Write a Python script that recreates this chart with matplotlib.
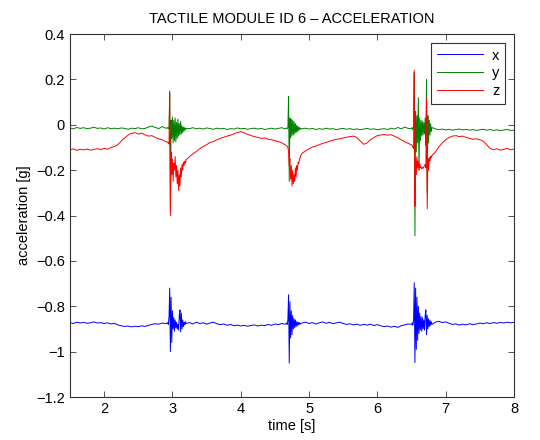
import numpy as np
import matplotlib
matplotlib.use("Agg")
import matplotlib.pyplot as plt

plt.rcParams['font.family'] = ['Liberation Sans', 'DejaVu Sans']

# -------- data --------
# each piece: start time, step, values for x / y / z
S1_T0, S1_DT = 1.50, 0.05
s1_x = [-0.872, -0.876, -0.870, -0.874, -0.871, -0.875, -0.873, -0.869, -0.874, -0.872,
        -0.876, -0.873, -0.878, -0.875, -0.882, -0.886, -0.889, -0.887, -0.891, -0.888,
        -0.890, -0.886, -0.889, -0.884, -0.880, -0.877, -0.879, -0.874, -0.877]
s1_y = [-0.014, -0.018, -0.012, -0.016, -0.013, -0.017, -0.015, -0.011, -0.016, -0.014,
        -0.019, -0.013, -0.017, -0.015, -0.018, -0.014, -0.016, -0.020, -0.015, -0.017,
        -0.013, -0.018, -0.016, -0.010, -0.006, -0.012, -0.017, -0.008, -0.015]
s1_z = [-0.110, -0.106, -0.113, -0.108, -0.111, -0.107, -0.112, -0.109, -0.105, -0.110,
        -0.104, -0.108, -0.100, -0.096, -0.088, -0.072, -0.058, -0.046, -0.038, -0.035,
        -0.041, -0.037, -0.045, -0.050, -0.048, -0.056, -0.062, -0.066, -0.074]

E1_T0, E1_DT = 2.92, 0.01
e1_x = [-0.875, -0.872, -0.880, -0.845, -0.720, -1.000, -0.760, -0.960, -0.820, -0.900,
        -0.850, -0.910, -0.860, -0.895, -0.870, -0.900, -0.880, -0.905, -0.840, -0.816,
        -0.913, -0.830, -0.900, -0.860, -0.890, -0.870, -0.882, -0.868, -0.876]
e1_y = [-0.015, -0.012, -0.018, -0.010, 0.140, -0.380, 0.020, -0.060, 0.034, -0.080,
        0.020, -0.070, 0.030, -0.075, 0.010, -0.060, 0.025, -0.050, 0.005, -0.045,
        0.015, -0.040, -0.005, -0.035, -0.010, -0.028, -0.012, -0.022, -0.016]
e1_z = [-0.076, -0.078, -0.080, -0.085, 0.150, -0.400, -0.120, -0.220, -0.150, -0.250,
        -0.170, -0.200, -0.140, -0.230, -0.180, -0.260, -0.200, -0.290, -0.220, -0.270,
        -0.190, -0.230, -0.175, -0.200, -0.165, -0.180, -0.160, -0.170, -0.155]

S2_T0, S2_DT = 3.25, 0.05
s2_x = [-0.872, -0.878, -0.870, -0.876, -0.873, -0.879, -0.874, -0.870, -0.877, -0.881,
        -0.878, -0.884, -0.880, -0.886, -0.883, -0.887, -0.884, -0.888, -0.885, -0.882,
        -0.887, -0.883, -0.886, -0.880, -0.884, -0.878, -0.881, -0.876, -0.879]
s2_y = [-0.017, -0.013, -0.018, -0.015, -0.019, -0.014, -0.017, -0.020, -0.015, -0.018,
        -0.016, -0.021, -0.017, -0.019, -0.014, -0.018, -0.016, -0.020, -0.017, -0.015,
        -0.019, -0.016, -0.021, -0.018, -0.015, -0.019, -0.016, -0.013, -0.018]
s2_z = [-0.140, -0.128, -0.118, -0.105, -0.096, -0.088, -0.078, -0.074, -0.066, -0.060,
        -0.055, -0.050, -0.046, -0.040, -0.034, -0.030, -0.036, -0.042, -0.048, -0.052,
        -0.056, -0.060, -0.058, -0.064, -0.066, -0.070, -0.074, -0.080, -0.088]

E2_T0, E2_DT = 4.66, 0.01
e2_x = [-0.878, -0.874, -0.880, -0.860, -0.750, -1.050, -0.780, -0.940, -0.820, -0.925,
        -0.840, -0.900, -0.855, -0.895, -0.860, -0.890, -0.868, -0.885, -0.870, -0.882,
        -0.872, -0.879, -0.875]
e2_y = [-0.016, -0.014, -0.018, -0.012, 0.124, -0.250, 0.030, -0.058, 0.025, -0.050,
        0.020, -0.045, 0.015, -0.040, 0.005, -0.035, -0.002, -0.030, -0.008, -0.025,
        -0.012, -0.020, -0.016]
e2_z = [-0.090, -0.092, -0.095, -0.100, -0.120, -0.180, -0.150, -0.240, -0.180, -0.270,
        -0.200, -0.260, -0.220, -0.250, -0.190, -0.230, -0.180, -0.200, -0.165, -0.170,
        -0.150, -0.145, -0.135]

S3_T0, S3_DT = 4.90, 0.05
s3_x = [-0.874, -0.870, -0.876, -0.872, -0.878, -0.873, -0.869, -0.875, -0.871, -0.877,
        -0.873, -0.870, -0.876, -0.880, -0.877, -0.882, -0.879, -0.884, -0.880, -0.883,
        -0.879, -0.885, -0.881, -0.886, -0.890, -0.887, -0.892, -0.888, -0.893, -0.886,
        -0.882, -0.878]
s3_y = [-0.018, -0.015, -0.019, -0.016, -0.021, -0.017, -0.020, -0.015, -0.019, -0.017,
        -0.022, -0.018, -0.016, -0.020, -0.017, -0.021, -0.018, -0.022, -0.019, -0.016,
        -0.020, -0.018, -0.022, -0.019, -0.017, -0.021, -0.015, -0.019, -0.012, -0.018,
        -0.010, -0.016]
s3_z = [-0.125, -0.115, -0.106, -0.098, -0.094, -0.088, -0.082, -0.078, -0.072, -0.068,
        -0.064, -0.062, -0.058, -0.055, -0.052, -0.050, -0.056, -0.072, -0.086, -0.080,
        -0.066, -0.056, -0.048, -0.045, -0.043, -0.046, -0.044, -0.050, -0.058, -0.066,
        -0.074, -0.082]

E3_T0, E3_DT = 6.50, 0.01
e3_x = [-0.880, -0.872, -0.884, -0.860, -0.696, -1.048, -0.720, -0.990, -0.760, -0.950,
        -0.800, -0.920, -0.830, -0.905, -0.845, -0.910, -0.850, -0.900, -0.860, -0.905,
        -0.840, -0.816, -0.926, -0.840, -0.900, -0.855, -0.890, -0.862, -0.884, -0.868,
        -0.880]
e3_y = [-0.018, -0.012, -0.022, -0.008, 0.230, -0.490, 0.060, -0.120, 0.040, -0.080,
        0.120, -0.200, 0.030, -0.070, 0.020, -0.050, 0.015, -0.045, 0.010, -0.040,
        0.030, -0.090, 0.200, -0.300, 0.040, -0.080, 0.020, -0.045, 0.005, -0.030,
        -0.012]
e3_z = [-0.088, -0.092, -0.098, -0.105, 0.240, -0.360, -0.150, -0.220, -0.140, -0.190,
        -0.160, -0.200, -0.170, -0.190, -0.185, -0.195, -0.188, -0.192, -0.185, -0.180,
        -0.175, -0.190, 0.120, -0.370, -0.150, -0.200, -0.145, -0.160, -0.140, -0.145,
        -0.135]

S4_T0, S4_DT = 6.85, 0.05
s4_x = [-0.870, -0.866, -0.872, -0.869, -0.875, -0.880, -0.878, -0.883, -0.879, -0.882,
        -0.877, -0.881, -0.878, -0.874, -0.877, -0.873, -0.876, -0.872, -0.875, -0.871,
        -0.874, -0.870, -0.873, -0.871]
s4_y = [-0.018, -0.022, -0.019, -0.023, -0.020, -0.024, -0.021, -0.019, -0.023, -0.020,
        -0.024, -0.021, -0.025, -0.022, -0.020, -0.024, -0.021, -0.025, -0.022, -0.026,
        -0.023, -0.021, -0.025, -0.024]
s4_z = [-0.120, -0.098, -0.080, -0.066, -0.056, -0.050, -0.048, -0.052, -0.050, -0.056,
        -0.060, -0.064, -0.062, -0.066, -0.072, -0.088, -0.104, -0.110, -0.106, -0.112,
        -0.108, -0.104, -0.110, -0.107]

pieces = [
    (S1_T0, S1_DT, s1_x, s1_y, s1_z),
    (E1_T0, E1_DT, e1_x, e1_y, e1_z),
    (S2_T0, S2_DT, s2_x, s2_y, s2_z),
    (E2_T0, E2_DT, e2_x, e2_y, e2_z),
    (S3_T0, S3_DT, s3_x, s3_y, s3_z),
    (E3_T0, E3_DT, e3_x, e3_y, e3_z),
    (S4_T0, S4_DT, s4_x, s4_y, s4_z),
]

Y_TICKS = [-1.2, -1.0, -0.8, -0.6, -0.4, -0.2, 0.0, 0.2, 0.4]
Y_LABELS = ['\u22121.2', '\u22121', '\u22120.8', '\u22120.6', '\u22120.4', '\u22120.2', '0', '0.2', '0.4']
X_TICKS = [2, 3, 4, 5, 6, 7, 8]

# -------- assemble series --------
t = np.concatenate([t0 + dt * np.arange(len(vx)) for t0, dt, vx, _, _ in pieces])
acc_x = np.concatenate([p[2] for p in pieces])
acc_y = np.concatenate([p[3] for p in pieces])
acc_z = np.concatenate([p[4] for p in pieces])

# -------- plot --------
fig = plt.figure(figsize=(5.4, 4.4), dpi=100)
ax = fig.add_axes([0.1296, 0.0977, 0.8222, 0.825])

ax.plot(t, acc_x, color=(0, 0, 1), lw=0.7, label='x')
ax.plot(t, acc_y, color=(0, 0.5, 0), lw=0.7, label='y')
ax.plot(t, acc_z, color=(1, 0, 0), lw=0.7, label='z')

ax.set_xlim(1.5, 8)
ax.set_ylim(-1.2, 0.4)
ax.set_xticks(X_TICKS)
ax.set_yticks(Y_TICKS)
ax.set_yticklabels(Y_LABELS)
ax.tick_params(direction='in', top=True, right=True, length=4, width=0.6,
               labelsize=10.5, color='#333333')
for sp in ax.spines.values():
    sp.set_linewidth(0.8)
    sp.set_color('#333333')

ax.set_title('TACTILE MODULE ID 6 \u2013 ACCELERATION', fontsize=10.5, pad=8)
ax.set_xlabel('time [s]', fontsize=10.5, labelpad=2)
ax.set_ylabel('acceleration [g]', fontsize=10.5, labelpad=4)

leg = ax.legend(loc='upper right', fontsize=10.5, fancybox=False, framealpha=1,
                edgecolor='#333333', handlelength=3.2, borderaxespad=0.6,
                labelspacing=0.25, handletextpad=0.6, borderpad=0.4)
leg.get_frame().set_linewidth(0.8)

fig.savefig('out.png', dpi=100)
